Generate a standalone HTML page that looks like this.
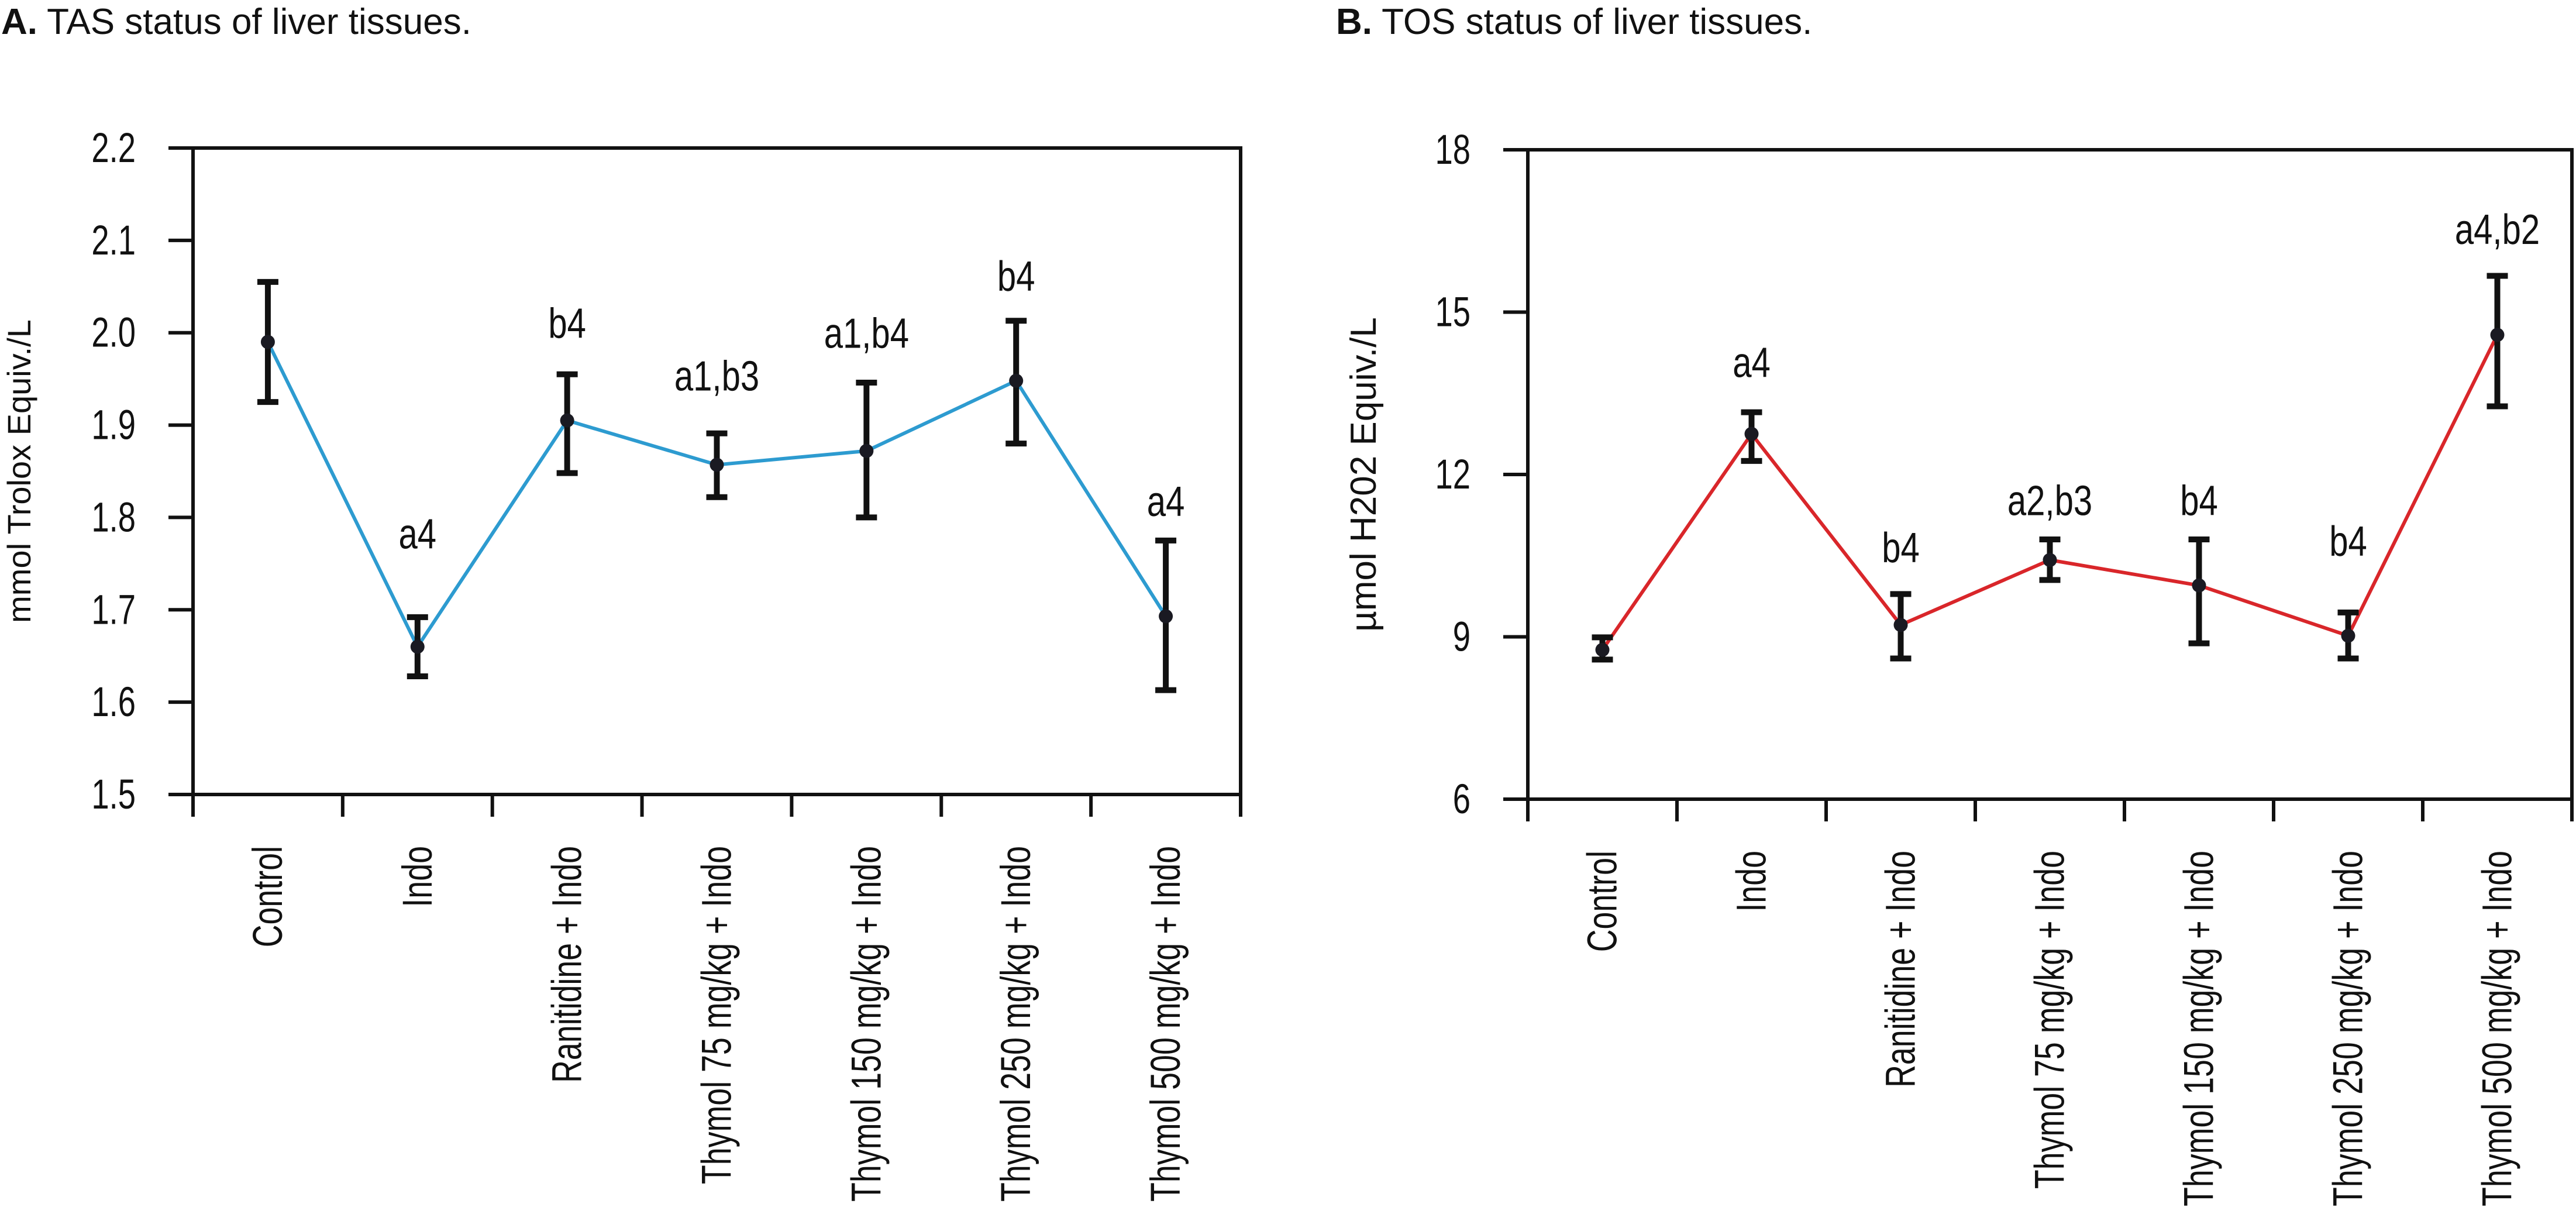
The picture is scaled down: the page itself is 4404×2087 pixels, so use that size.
<!DOCTYPE html>
<html><head><meta charset="utf-8"><style>
html,body{margin:0;padding:0;background:#fff}
svg{display:block}
text{font-family:"Liberation Sans",sans-serif;fill:#111}
</style></head><body>
<svg id="root" width="4404" height="2087" viewBox="0 0 4404 2087" xmlns="http://www.w3.org/2000/svg">
<text x="2" y="58" font-size="62"><tspan font-weight="bold">A.</tspan> TAS status of liver tissues.</text>
<text x="2284" y="58" font-size="62"><tspan font-weight="bold">B.</tspan> TOS status of liver tissues.</text>
<g id="chartA"></g>
<g id="chartB"></g>
</svg>
<script>
const categories = ["Control","Indo","Ranitidine + Indo","Thymol 75 mg/kg + Indo","Thymol 150 mg/kg + Indo","Thymol 250 mg/kg + Indo","Thymol 500 mg/kg + Indo"];
const tasMean = [1.99,1.66,1.905,1.857,1.872,1.948,1.693];
const tasHigh = [2.055,1.692,1.955,1.891,1.946,2.013,1.775];
const tasLow = [1.925,1.628,1.848,1.822,1.80,1.88,1.613];
const tasLabels = ["","a4","b4","a1,b3","a1,b4","b4","a4"];
const tasLabelY = [0,1.783,2.011,1.954,2.0,2.062,1.818];
const tasTicks = ["1.5","1.6","1.7","1.8","1.9","2.0","2.1","2.2"];
const tosMean = [8.76,12.75,9.22,10.42,9.95,9.02,14.58];
const tosHigh = [8.99,13.15,9.79,10.8,10.8,9.45,15.67];
const tosLow = [8.58,12.25,8.6,10.05,8.88,8.6,13.26];
const tosLabels = ["","a4","b4","a2,b3","b4","b4","a4,b2"];
const tosLabelY = [0,14.08,10.66,11.53,11.53,10.78,16.54];
const tosTicks = ["6","9","12","15","18"];

const NS="http://www.w3.org/2000/svg";
function mk(parent,tag,attrs){const e=document.createElementNS(NS,tag);for(const k in attrs)e.setAttribute(k,attrs[k]);parent.appendChild(e);return e;}

function drawChart(g,cfg){
  const {left,right,top,bottom,ymin,ymax,ticks,mean,hi,lo,labels,labelY,color,yTitle,titleX,titleSize}=cfg;
  const n=categories.length, bw=(right-left)/n;
  const xs=i=>left+bw*(i+0.5);
  const ys=v=>bottom-(v-ymin)/(ymax-ymin)*(bottom-top);
  const frame=mk(g,'rect',{x:left,y:top,width:right-left,height:bottom-top,fill:'none',stroke:'#111','stroke-width':6});
  
  
  ticks.forEach(t=>{
    const v=parseFloat(t),y=ys(v);
    const tl=mk(g,'line',{x1:left-42,x2:left,y1:y,y2:y,stroke:'#111','stroke-width':6});
    
    
    const tx=mk(g,'text',{x:0,y:0,'font-size':64,'text-anchor':'end',transform:`translate(${left-98} ${y+24}) scale(0.85 1.12)`});
    tx.textContent=t;
    
    
  });
  for(let i=0;i<=n;i++){
    const x=left+bw*i;
    const xt=mk(g,'line',{x1:x,x2:x,y1:bottom,y2:bottom+38,stroke:'#111','stroke-width':6});
    
    
  }
  categories.forEach((c,i)=>{
    const x=xs(i)+24,y=bottom+88;
    const t=mk(g,'text',{x:0,y:0,'font-size':64,'text-anchor':'end',transform:`translate(${x} ${y}) rotate(-90) scale(0.84 1.12)`});
    t.textContent=c;
    
    
  });
  const yt=mk(g,'text',{x:titleX,y:(top+bottom)/2,'font-size':titleSize,'text-anchor':'middle',transform:`rotate(-90 ${titleX} ${(top+bottom)/2})`});
  yt.textContent=yTitle;
  
  
  const pts=mean.map((v,i)=>xs(i)+','+ys(v)).join(' ');
  const pl=mk(g,'polyline',{points:pts,fill:'none',stroke:color,'stroke-width':6});
  
  
  mean.forEach((v,i)=>{
    const x=xs(i);
    const eg=mk(g,'g',{stroke:'#111','stroke-width':10});
    
    
    mk(eg,'line',{x1:x,x2:x,y1:ys(hi[i]),y2:ys(lo[i])});
    mk(eg,'line',{x1:x-18,x2:x+18,y1:ys(hi[i]),y2:ys(hi[i])});
    mk(eg,'line',{x1:x-18,x2:x+18,y1:ys(lo[i]),y2:ys(lo[i])});
    const p=mk(g,'circle',{cx:x,cy:ys(v),r:12,fill:'#1a1a22'});
    
    
    if(labels[i]){
      const lt=mk(g,'text',{x:0,y:0,'font-size':66,'text-anchor':'middle',transform:`translate(${x} ${ys(labelY[i])+26}) scale(0.88 1.1)`});
      lt.textContent=labels[i];
      
      
    }
  });
}
drawChart(document.getElementById('chartA'),{left:330,right:2121,top:253,bottom:1358,ymin:1.5,ymax:2.2,ticks:tasTicks,mean:tasMean,hi:tasHigh,lo:tasLow,labels:tasLabels,labelY:tasLabelY,color:'#2d9bd0',yTitle:'mmol Trolox Equiv./L',titleX:52,titleSize:56});
drawChart(document.getElementById('chartB'),{left:2612,right:4397,top:256,bottom:1366,ymin:6,ymax:18,ticks:tosTicks,mean:tosMean,hi:tosHigh,lo:tosLow,labels:tosLabels,labelY:tosLabelY,color:'#d9262a',yTitle:'µmol H202 Equiv./L',titleX:2352,titleSize:62});
</script>
</body></html>
